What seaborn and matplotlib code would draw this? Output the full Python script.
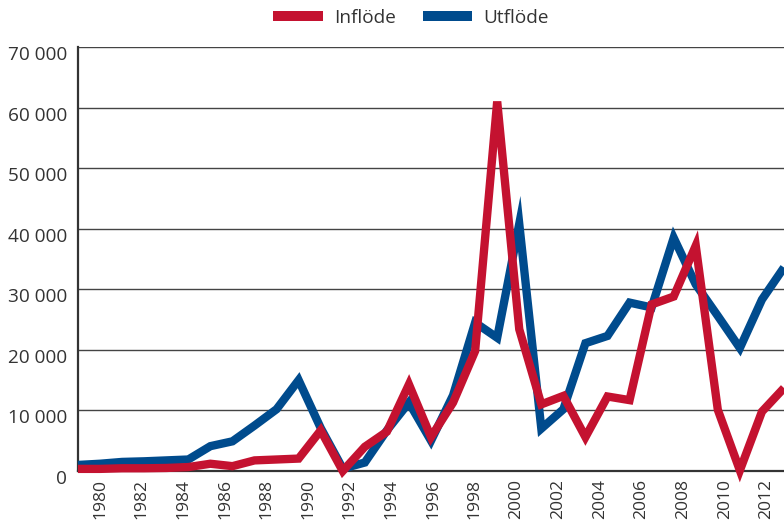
import matplotlib
matplotlib.use("Agg")
import matplotlib.pyplot as plt
from matplotlib.lines import Line2D
from matplotlib.ticker import FuncFormatter
import matplotlib.transforms as mtransforms
import numpy as np
import pandas as pd
import seaborn as sns

years = list(range(1980, 2013))
inflow = [350, 350, 450, 450, 500, 650, 1200, 800, 1750, 1900, 2050, 6700, 0,
          4000, 6500, 14300, 5600, 11300, 19800, 61000, 23400, 11000, 12400,
          5600, 12300, 11700, 27500, 28800, 37200, 10100, 100, 9800, 13700]
outflow = [1000, 1200, 1500, 1600, 1750, 1900, 4100, 4900, 7500, 10200, 15000,
           7100, 400, 1400, 6700, 11300, 5000, 12500, 24500, 22000, 40800, 7000,
           10200, 21100, 22300, 27800, 27000, 38500, 30800, 25600, 20300, 28300,
           33600]
series_names = ["Inflöde", "Utflöde"]
label_years = list(range(1980, 2013, 2))
y_ticks = [0, 10000, 20000, 30000, 40000, 50000, 60000, 70000]

RED = "#C41230"
BLUE = "#004B8D"
TXT = "#333333"


def main():
    sns.set_style("white")
    plt.rcParams["font.family"] = ["Open Sans", "DejaVu Sans"]

    df = pd.DataFrame({"year": years, "Inflöde": inflow, "Utflöde": outflow})

    fig = plt.figure(figsize=(7.84, 5.25), dpi=100)
    ax = fig.add_axes([78 / 784, 1 - 471 / 525, 706 / 784, 424 / 525])

    # blue first so the red line sits on top
    for name, col in [("Utflöde", BLUE), ("Inflöde", RED)]:
        sns.lineplot(data=df, x="year", y=name, color=col, linewidth=6,
                     solid_joinstyle="miter", solid_capstyle="butt",
                     clip_on=False, zorder=3, ax=ax)

    ax.set_xlim(1980, 2012)
    ax.set_ylim(0, 70000)
    ax.set_xlabel("")
    ax.set_ylabel("")

    # grid
    ax.set_yticks(y_ticks)
    ax.yaxis.grid(True, color="#444444", linewidth=1.0)
    ax.set_axisbelow(True)
    ax.yaxis.set_major_formatter(FuncFormatter(lambda v, p: f"{int(v):,}".replace(",", " ")))
    ax.tick_params(axis="y", length=0, pad=8, labelsize=13.7, labelcolor=TXT)
    off = mtransforms.ScaledTranslation(0, -6 / 100, fig.dpi_scale_trans)
    for lab in ax.get_yticklabels():
        lab.set_transform(lab.get_transform() + off)

    # x axis: year marks plus year labels every second year
    ax.set_xticks(np.linspace(1981.0, 2011.2, len(label_years)))
    ax.set_xticklabels([str(y) for y in label_years], rotation=90)
    ax.set_xticks(np.linspace(1980, 2012, 34), minor=True)
    ax.tick_params(axis="x", which="major", length=0, pad=6, labelsize=12.6,
                   labelcolor=TXT)
    ax.tick_params(axis="x", which="minor", direction="in", length=7,
                   width=1.2, color="#222222")

    sns.despine(ax=ax, top=True, right=True)
    for s in ["left", "bottom"]:
        ax.spines[s].set_color("#333333")
        ax.spines[s].set_linewidth(1.6)

    handles = [Line2D([], [], color=RED, lw=7.2, solid_capstyle="butt"),
               Line2D([], [], color=BLUE, lw=7.2, solid_capstyle="butt")]
    fig.legend(handles, series_names, loc="center", ncol=2, frameon=False,
               bbox_to_anchor=(411 / 784, 1 - 18 / 525), fontsize=13.7,
               handlelength=2.6, handletextpad=0.6, columnspacing=1.4,
               labelcolor=TXT)

    plt.savefig("out.png", dpi=100)


if __name__ == "__main__":
    main()
